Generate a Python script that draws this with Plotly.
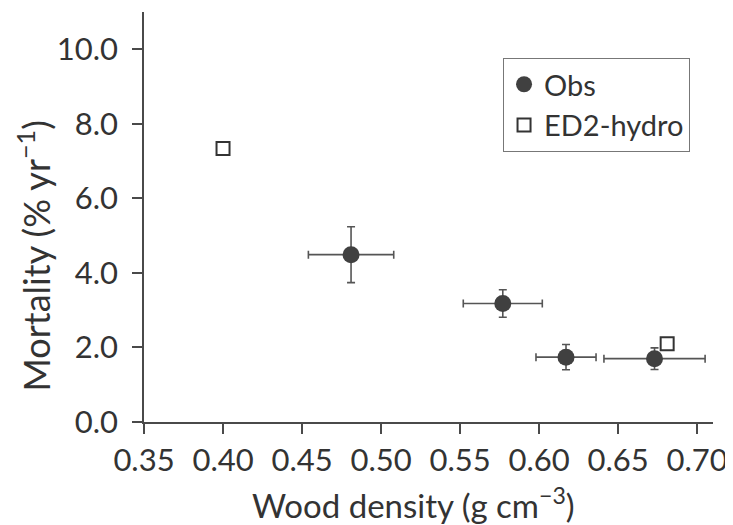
import plotly.graph_objects as go

# Observations
obs_density = [0.481, 0.577, 0.617, 0.673]
obs_mortality = [4.49, 3.18, 1.74, 1.70]
obs_density_err = [0.027, 0.025, 0.019, 0.032]
obs_mortality_err = [0.75, 0.37, 0.34, 0.29]

# Model (ED2-hydro)
model_density = [0.400, 0.681]
model_mortality = [7.34, 2.10]

x_ticks = [0.35, 0.40, 0.45, 0.50, 0.55, 0.60, 0.65, 0.70]
y_ticks = [0.0, 2.0, 4.0, 6.0, 8.0, 10.0]

FONT = "Lato, 'Open Sans', sans-serif"
TXT = "#333333"
AX = "#4a4a4a"

fig = go.Figure()
fig.add_trace(go.Scatter(
    x=obs_density, y=obs_mortality, mode="markers", name="Obs",
    marker=dict(symbol="circle", size=17, color="#404040"),
    error_x=dict(type="data", array=obs_density_err, color="#555555",
                 thickness=1.6, width=4),
    error_y=dict(type="data", array=obs_mortality_err, color="#555555",
                 thickness=1.6, width=4),
))
fig.add_trace(go.Scatter(
    x=model_density, y=model_mortality, mode="markers", name="ED2-hydro",
    marker=dict(symbol="square", size=13, color="white",
                line=dict(color="#333333", width=2)),
))

fig.update_layout(
    width=725, height=517,
    margin=dict(l=136, r=20, t=4, b=103),
    plot_bgcolor="white", paper_bgcolor="white",
    font=dict(family=FONT, size=30, color=TXT),
    showlegend=True,
    legend=dict(x=0.631, y=0.888, xanchor="left", yanchor="top",
                bordercolor="#777777", borderwidth=1, bgcolor="white",
                font=dict(size=29, color=TXT), itemsizing="trace",
                tracegroupgap=0),
    xaxis=dict(range=[0.35, 0.71], tickvals=x_ticks, tickformat=".2f",
               showgrid=False, zeroline=False, showline=True,
               linecolor=AX, linewidth=1.5, ticks="outside", ticklen=10,
               tickwidth=1.5, tickcolor=AX, tickfont=dict(size=31)),
    yaxis=dict(range=[0, 11], tickvals=y_ticks, tickformat=".1f",
               showgrid=False, zeroline=False, showline=True,
               linecolor=AX, linewidth=1.5, ticks="outside", ticklen=10,
               tickwidth=1.5, tickcolor=AX, tickfont=dict(size=31),
               ticklabelstandoff=8),
    annotations=[
        dict(text="Wood density (g cm<sup>\u22123</sup>)", xref="paper",
             yref="paper", x=0.474, y=-0.198, xanchor="center",
             yanchor="middle", showarrow=False, font=dict(size=33, color=TXT)),
        dict(text="Mortality (% yr<sup>\u22121</sup>)", xref="paper",
             yref="paper", x=-0.194, y=0.405, xanchor="center",
             yanchor="middle", textangle=-90, showarrow=False,
             font=dict(size=36, color=TXT)),
    ],
)

fig.write_html("out.html")
